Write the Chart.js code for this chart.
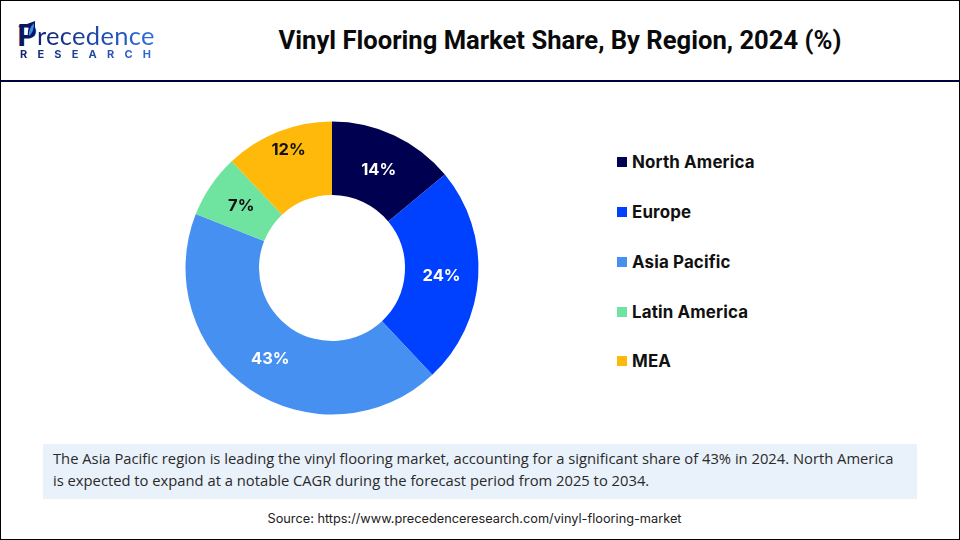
<!DOCTYPE html>
<html>
<head>
<meta charset="utf-8">
<script src="https://cdn.jsdelivr.net/npm/chart.js@4"></script>
<style>
html, body { margin: 0; padding: 0; background: #fff; }
#page { position: relative; width: 960px; height: 540px; overflow: hidden; background: #fff; font-family: Inter, sans-serif; }
#frame { position: absolute; left: 0; top: 0; width: 958px; height: 538px; border: 1px solid #000; }
#rule { position: absolute; left: 1px; top: 80px; width: 958px; height: 2px; background: #00003c; }
#title { position: absolute; left: 200px; width: 720px; top: 22px; text-align: center; font: 700 25.6px Roboto, sans-serif; color: #0a0a0a; line-height: 36px; white-space: nowrap; }
#logoP { position: absolute; left: 17px; top: 22px; font: 900 31px Lato, sans-serif; color: #0b1560; line-height: 24px; }
#logoLeaf { position: absolute; left: 17px; top: 20px; }
#logoA { position: absolute; left: 37px; top: 24px; font: 400 25.5px Lato, sans-serif; line-height: 22px; letter-spacing: 0.3px; white-space: nowrap;
  background: linear-gradient(90deg, #13226e, #2f6fe0); -webkit-background-clip: text; background-clip: text; color: transparent; }
#logoB { position: absolute; left: 20px; top: 47px; font: 700 11px Inter, sans-serif; letter-spacing: 10.2px; line-height: 14px; white-space: nowrap;
  background: linear-gradient(90deg, #13226e, #2f6fe0); -webkit-background-clip: text; background-clip: text; color: transparent; }
#wrap { position: absolute; left: 181.5px; top: 117.5px; width: 300px; height: 300px; }
#legend div.sw { position: absolute; left: 617px; width: 10px; height: 10px; }
#legend div.tx { position: absolute; left: 632px; font: 700 16.9px Inter, sans-serif; letter-spacing: 0.15px; color: #111; line-height: 20px; white-space: nowrap; }
#note { position: absolute; left: 43px; top: 444px; width: 874px; height: 55px; background: #e9f1fa; }
#note p { margin: 0; position: absolute; left: 10px; top: 4px; width: 860px; font: 400 14.75px/21.5px "Open Sans", sans-serif; color: #2a2a2a; white-space: nowrap; }
#source { position: absolute; left: 0; width: 949px; top: 510px; text-align: center; font: 400 12.75px Inter, sans-serif; color: #222; line-height: 18px; }
</style>
</head>
<body>
<div id="page">
  <div id="frame"></div>
  <div id="rule"></div>
  <div id="logoP">P</div>
  <svg id="logoLeaf" width="20" height="20" viewBox="0 0 20 20"><path d="M1 6 L10 4 L18 1 L18 8 Q17 15 11 18 Q10 10 13 5 L4 8 Z" fill="#0b1560"/><path d="M17 3 Q17 12 12 16 Q11 9 17 3 Z" fill="#3f8be8"/></svg>
  <div id="logoA">recedence</div>
  <div id="logoB">RESEARCH</div>
  <div id="title">Vinyl Flooring Market Share, By Region, 2024 (%)</div>
  <div id="wrap"><canvas id="myChart" width="300" height="300"></canvas></div>
  <div id="legend"></div>
  <div id="note"><p>The Asia Pacific region is leading the vinyl flooring market, accounting for a significant share of 43% in 2024. North America<br>is expected to expand at a notable CAGR during the forecast period from 2025 to 2034.</p></div>
  <div id="source">Source: https://www.precedenceresearch.com/vinyl-flooring-market</div>
</div>
<script>
var regioes = ['North America', 'Europe', 'Asia Pacific', 'Latin America', 'MEA'];
var valores = [14, 24, 43, 7, 12];
var cores = ['#000050', '#0040ff', '#4590f0', '#6fe3a0', '#ffb90a'];
var coresRotulo = ['#ffffff', '#ffffff', '#ffffff', '#111111', '#111111'];
var legendaY = [162, 212, 262, 312, 361];
// the 12% label sits further out than the slice middle
var ajusteRotulo = [[0, 1], [0, 1], [0, 0], [0, 0], [-3, -16]];

// legend on the right
var legenda = document.getElementById('legend');
regioes.forEach(function (nome, i) {
    var sw = document.createElement('div');
    sw.className = 'sw';
    sw.style.top = (legendaY[i] - 5) + 'px';
    sw.style.background = cores[i];
    var tx = document.createElement('div');
    tx.className = 'tx';
    tx.style.top = (legendaY[i] - 10) + 'px';
    tx.textContent = nome;
    legenda.appendChild(sw);
    legenda.appendChild(tx);
});

// percent labels in the middle of each slice
var rotulos = {
    id: 'rotulos',
    afterDatasetsDraw: function (chart) {
        var ctx = chart.ctx;
        chart.getDatasetMeta(0).data.forEach(function (arc, i) {
            var p = arc.getCenterPoint();
            ctx.save();
            ctx.font = '700 16.5px Inter, sans-serif';
            ctx.fillStyle = coresRotulo[i];
            ctx.textAlign = 'center';
            ctx.textBaseline = 'middle';
            ctx.fillText(valores[i] + '%', p.x + ajusteRotulo[i][0], p.y + ajusteRotulo[i][1]);
            ctx.restore();
        });
    }
};

const ctx = document.getElementById('myChart').getContext('2d');
const myChart = new Chart(ctx, {
    type: 'doughnut',
    data: {
        labels: regioes,
        datasets: [{
            data: valores,
            backgroundColor: cores,
            borderWidth: 0
        }]
    },
    options: {
        responsive: false,
        animation: false,
        radius: 146.5,
        cutout: 74.75,
        plugins: {
            legend: { display: false },
            tooltip: { enabled: false }
        }
    },
    plugins: [rotulos]
});
</script>
</body>
</html>
